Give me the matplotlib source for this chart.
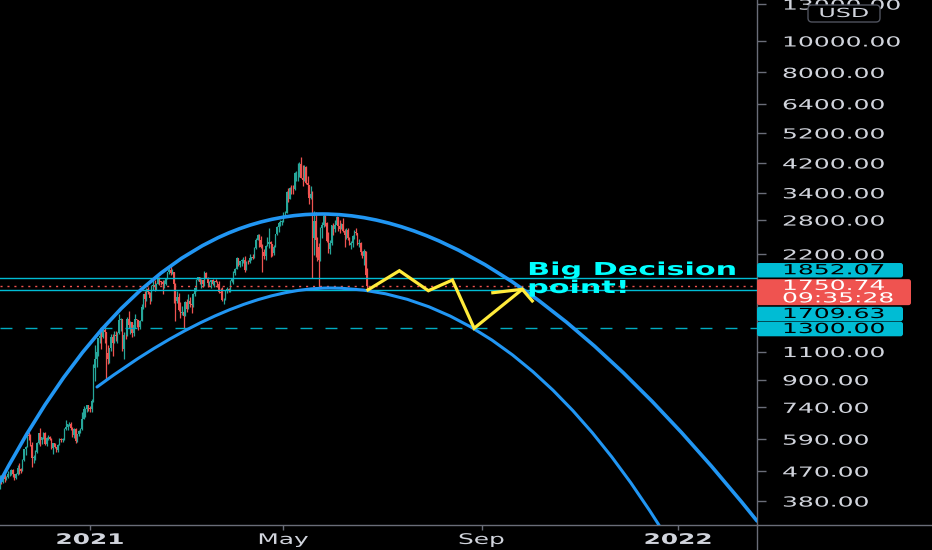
import numpy as np
import pandas as pd
import matplotlib
matplotlib.use("Agg")
import matplotlib.pyplot as plt
import matplotlib.dates as mdates
import matplotlib.patheffects as pe
from matplotlib.path import Path
from matplotlib.patches import PathPatch, FancyBboxPatch
from matplotlib.transforms import Affine2D
from matplotlib.lines import Line2D
from matplotlib.ticker import NullLocator

# daily candles ETH/USD, 2020-11-05 .. 2021-06-22 (open = previous close)
first_open = 401
closes = [
    # nov
    415, 454, 435, 453, 444, 450, 462, 462, 475, 460, 448, 460, 481, 479, 471, 509, 549, 559, 608, 603,
    568, 517, 518, 538, 575, 615,
    # dec
    587, 598, 616, 570, 596, 601, 591, 554, 573, 560, 545, 568, 590, 586, 589, 636, 643, 655, 658, 638,
    609, 635, 583, 611, 625, 635, 683, 730, 731, 751, 737,
    # jan
    730, 775, 978, 1041, 1100, 1208, 1225, 1224, 1281, 1262, 1090, 1044, 1130, 1218, 1171, 1233, 1230,
    1257, 1377, 1382, 1121, 1236, 1233, 1391, 1324, 1357, 1253, 1332, 1382, 1377, 1314,
    # feb
    1369, 1515, 1660, 1594, 1719, 1677, 1614, 1750, 1769, 1743, 1783, 1843, 1814, 1803, 1779, 1781, 1848,
    1938, 1960, 1919, 1935, 1778, 1570, 1626, 1476, 1446, 1459, 1416,
    # mar
    1564, 1492, 1575, 1541, 1533, 1654, 1723, 1834, 1868, 1798, 1826, 1772, 1924, 1855, 1791, 1806, 1823,
    1782, 1810, 1806, 1783, 1681, 1669, 1583, 1588, 1699, 1716, 1691, 1819, 1846, 1919,
    # apr
    1977, 2143, 2028, 2093, 2107, 2115, 1967, 2085, 2076, 2135, 2157, 2139, 2299, 2432, 2515, 2423, 2317,
    2235, 2170, 2330, 2365, 2402, 2363, 2212, 2315, 2534, 2663, 2747, 2758, 2773,
    # may
    2945, 2948, 3431, 3253, 3523, 3491, 3484, 3903, 3928, 3953, 4168, 3785, 3716, 4080, 3639, 3589, 3282,
    3380, 2460, 2773, 2435, 2305, 2109, 2645, 2706, 2890, 2743, 2412, 2277, 2385, 2707,
    # jun
    2634, 2707, 2857, 2689, 2630, 2715, 2591, 2517, 2611, 2472, 2354, 2372, 2508, 2580, 2552, 2366, 2374,
    2225, 2177, 2247, 1889, 1750.74,
]
highs = [
    418, 458, 457, 456, 460, 455, 470, 470, 478, 476, 462, 465, 492, 497, 482, 512, 552, 562, 612, 620,
    611, 580, 528, 546, 577, 617,
    637, 600, 622, 619, 598, 607, 604, 595, 576, 575, 560, 570, 594, 594, 594, 638, 676, 657, 665, 665,
    642, 638, 637, 613, 628, 640, 718, 745, 738, 752, 754,
    749, 787, 1009, 1154, 1132, 1210, 1279, 1269, 1303, 1350, 1263, 1156, 1132, 1245, 1246, 1277, 1271,
    1262, 1441, 1395, 1384, 1265, 1266, 1403, 1470, 1362, 1357, 1346, 1440, 1386, 1378,
    1375, 1540, 1660, 1692, 1734, 1740, 1681, 1760, 1823, 1823, 1790, 1870, 1873, 1820, 1826, 1830, 1850,
    1940, 1985, 2041, 1982, 1940, 1786, 1693, 1670, 1560, 1525, 1473,
    1573, 1601, 1650, 1624, 1550, 1670, 1736, 1841, 1875, 1870, 1840, 1835, 1944, 1932, 1875, 1815, 1832,
    1840, 1820, 1840, 1813, 1812, 1724, 1735, 1604, 1705, 1735, 1726, 1835, 1853, 1944,
    1989, 2150, 2145, 2095, 2127, 2150, 2175, 2098, 2105, 2196, 2160, 2200, 2315, 2470, 2530, 2540, 2497,
    2355, 2280, 2345, 2475, 2645, 2405, 2368, 2345, 2545, 2685, 2760, 2795, 2794,
    2970, 2988, 3450, 3525, 3540, 3600, 3585, 3940, 3980, 4200, 4220, 4380, 4150, 4135, 4100, 3840, 3590,
    3565, 3440, 2980, 2960, 2480, 2380, 2660, 2760, 2915, 2895, 2760, 2580, 2430, 2710,
    2740, 2800, 2890, 2860, 2810, 2750, 2845, 2620, 2640, 2650, 2490, 2410, 2520, 2605, 2640, 2560, 2455,
    2390, 2245, 2280, 2255, 1985,
]
lows = [
    398, 413, 430, 432, 436, 442, 448, 454, 458, 452, 442, 444, 458, 462, 463, 470, 506, 526, 557, 585,
    562, 485, 498, 508, 535, 571,
    562, 571, 591, 566, 563, 588, 586, 550, 530, 554, 537, 540, 566, 580, 580, 585, 628, 630, 648, 630,
    600, 594, 576, 577, 604, 616, 628, 680, 692, 718, 719,
    715, 714, 768, 890, 985, 1066, 1169, 1117, 1209, 1172, 908, 1010, 1016, 1105, 1067, 1171, 1182,
    1168, 1248, 1276, 1104, 1041, 1200, 1232, 1304, 1245, 1224, 1225, 1305, 1312, 1280,
    1290, 1364, 1489, 1510, 1580, 1650, 1540, 1570, 1702, 1692, 1707, 1772, 1770, 1766, 1650, 1729, 1762,
    1843, 1905, 1891, 1910, 1555, 1370, 1550, 1470, 1400, 1426, 1300,
    1412, 1460, 1490, 1505, 1442, 1505, 1630, 1696, 1820, 1775, 1731, 1745, 1755, 1854, 1735, 1750, 1729,
    1765, 1740, 1799, 1740, 1670, 1655, 1578, 1546, 1585, 1672, 1680, 1681, 1804, 1780,
    1901, 1972, 2015, 2005, 2018, 2063, 1935, 1962, 2055, 2065, 2107, 2120, 2136, 2280, 2422, 2320, 2300,
    1940, 2130, 2105, 2330, 2300, 2160, 2170, 2190, 2310, 2525, 2580, 2690, 2705,
    2770, 2855, 2940, 3180, 3250, 3380, 3370, 3480, 3705, 3700, 3810, 3780, 3570, 3705, 3630, 3380, 3140,
    3260, 1852.07, 2180, 2160, 2100, 1730, 2090, 2460, 2660, 2690, 2400, 2220, 2200, 2340,
    2520, 2580, 2700, 2600, 2560, 2620, 2580, 2320, 2440, 2430, 2340, 2280, 2320, 2440, 2525, 2345, 2310,
    2180, 2145, 2040, 1880, 1709.63,
]
start_day = "2020-11-05"

# horizontal levels
level_hi = 1852.07
level_last = 1750.74
level_lo = 1709.63
level_dash = 1300.00
countdown = "09:35:28"

# arcs (start, control, apex, control, end)
outer_dates = ["2020-11-06", "2021-02-01 17:00", "2021-05-25", "2021-09-19 07:00", "2022-02-19"]
outer_prices = [435, 2924, 2924, 2924, 330]
inner_dates = ["2021-01-05 07:00", "2021-03-29 12:00", "2021-05-30", "2021-09-18 17:00", "2021-12-20 05:00"]
inner_prices = [855, 1728, 1728, 1728, 320]

# yellow projection path + arrow head
path_dates = ["2021-06-22 12:00", "2021-07-12", "2021-07-30", "2021-08-13 22:00", "2021-08-27 10:00", "2021-09-26 07:00"]
path_prices = [1705, 1954, 1695, 1829, 1298, 1712]
head_dates = ["2021-09-08", "2021-09-26 07:00", "2021-10-02 12:00"]
head_prices = [1671, 1712, 1576]

note_date = "2021-09-29 07:00"
note_price = 2094
note_text = "Big Decision\npoint!"

yticks = [380, 470, 590, 740, 900, 1100, 2200, 2800, 3400, 4200, 5200, 6400, 8000, 10000, 13000]
xtick_dates = ["2021-01-01", "2021-05-01", "2021-09-01", "2022-01-01"]
xtick_labels = ["2021", "May", "Sep", "2022"]
xtick_bold = [True, False, False, True]
xmin_date = "2020-11-06 02:00"
xmax_date = "2022-02-19"

UP = '#26a69a'
DOWN = '#ef5350'
BLUE = '#2196f3'
CYAN = '#00bcd4'
GRID = '#6a6d78'
TXT = '#d1d4dc'


def dnum(ds):
    return mdates.date2num([pd.Timestamp(s) for s in ds])


class StretchX(pe.AbstractPathEffect):
    """widen glyphs horizontally (the screenshot is stretched)"""
    def __init__(self, sx, anchor='left'):
        super().__init__()
        self.sx = sx
        self.anchor = anchor

    def draw_path(self, renderer, gc, tpath, affine, rgbFace=None):
        if self.anchor == 'center':
            ext = tpath.get_extents()
            cx = (ext.x0 + ext.x1) / 2
        else:
            cx = 0
        t = Affine2D().translate(-cx, 0).scale(self.sx, 1).translate(cx, 0) + affine
        renderer.draw_path(gc, tpath, t, rgbFace)


W, H = 932, 550
fig = plt.figure(figsize=(W / 100, H / 100), dpi=100, facecolor='black')
ax = fig.add_axes([0, 25 / H, 757 / W, 525 / H], facecolor='black')

# candles
dates = pd.date_range(start_day, periods=len(closes), freq="D")
x = mdates.date2num(dates)
c = np.array(closes, dtype=float)
o = np.concatenate([[first_open], c[:-1]])
hi = np.array(highs, dtype=float)
lo = np.array(lows, dtype=float)
cols = np.where(c >= o, UP, DOWN)
ax.vlines(x, lo, hi, colors=cols, lw=0.9, zorder=2)
ax.bar(x, np.abs(c - o), bottom=np.minimum(o, c), width=0.85, color=cols, linewidth=0, zorder=2)

# levels
ax.axhline(level_hi, color=CYAN, lw=1.0, zorder=3)
ax.axhline(level_lo, color=CYAN, lw=1.0, zorder=3)
ax.axhline(level_last, color=DOWN, lw=1.0, ls=(0, (1.5, 3.5)), zorder=3)
ax.axhline(level_dash, color='#00acc1', lw=1.0, ls=(0, (8.6, 9.4)), zorder=3)

# arcs
codes = [Path.MOVETO, Path.CURVE3, Path.CURVE3, Path.CURVE3, Path.CURVE3]
for ds, ps, lw in [(outer_dates, outer_prices, 2.6), (inner_dates, inner_prices, 2.2)]:
    verts = list(zip(dnum(ds), ps))
    ax.add_patch(PathPatch(Path(verts, codes), fill=False, edgecolor=BLUE, lw=lw,
                           capstyle='round', zorder=4))

# yellow projection
ax.plot(dnum(path_dates), path_prices, color='#ffeb3b', lw=2.3, solid_joinstyle='miter', zorder=5)
ax.plot(dnum(head_dates), head_prices, color='#ffeb3b', lw=2.3, solid_joinstyle='miter', zorder=5)

note = ax.text(dnum([note_date])[0], note_price, note_text, color='#00ffff',
               fontsize=12.8, fontweight='bold', ha='left', va='top', linespacing=1.0, zorder=6)
note.set_path_effects([StretchX(1.7, 'left')])

# axes
ax.set_yscale('log')
ax.set_ylim(320.6, 13383)
ax.set_xlim(*dnum([xmin_date, xmax_date]))
ax.yaxis.set_minor_locator(NullLocator())
ax.xaxis.set_minor_locator(NullLocator())
ax.yaxis.tick_right()
ax.set_yticks(yticks)
ax.set_yticklabels([f"{v:.2f}" for v in yticks])
ax.tick_params(axis='y', length=6.5, width=1, color=GRID, pad=11.5, labelsize=10, labelcolor=TXT)
ax.set_xticks(dnum(xtick_dates))
ax.set_xticklabels(xtick_labels)
ax.tick_params(axis='x', length=3.5, width=1, color=GRID, pad=1.5, labelsize=10.5, labelcolor=TXT)
for sp in ['left', 'top']:
    ax.spines[sp].set_visible(False)
for sp in ['right', 'bottom']:
    ax.spines[sp].set_color(GRID)
    ax.spines[sp].set_linewidth(1)

for t in ax.yaxis.get_major_ticks():
    t.label2.set_path_effects([StretchX(1.8, 'left')])
for t, b in zip(ax.xaxis.get_major_ticks(), xtick_bold):
    t.label1.set_path_effects([StretchX(1.7, 'center')])
    if b:
        t.label1.set_fontweight('bold')

# axis lines running into the price / time scale area
fig.add_artist(Line2D([757 / W, 757 / W], [0, 25 / H], color=GRID, lw=1))
fig.add_artist(Line2D([757 / W, 1], [25 / H, 25 / H], color=GRID, lw=1))

# price tags on the scale (positions from the data transform)
inch = fig.dpi_scale_trans


def tag(price, dy, h, w, face, lines, txtcol, line_dy=0):
    yc = ax.transData.transform((x[0], price))[1] / 100 - dy / 100
    fig.add_artist(FancyBboxPatch((757 / 100, yc - h / 200), w / 100, h / 100,
                                  boxstyle="round,pad=0,rounding_size=0.025",
                                  transform=inch, facecolor=face, edgecolor='none', zorder=5))
    for i, s in enumerate(lines):
        ty = yc + (len(lines) - 1) * line_dy / 200 - i * line_dy / 100
        tt = fig.text(782 / 100, ty, s, transform=inch, ha='left', va='center',
                      fontsize=10, color=txtcol, zorder=6)
        tt.set_path_effects([StretchX(1.8, 'left')])


tag(level_hi, -8, 14.5, 146, CYAN, [f"{level_hi:.2f}"], 'black')
tag(level_last, 6, 26, 154, DOWN, [f"{level_last:.2f}", countdown], 'white', line_dy=12.5)
tag(level_lo, 24.5, 14.5, 146, CYAN, [f"{level_lo:.2f}"], 'black')
tag(level_dash, 1, 14.5, 146, CYAN, [f"{level_dash:.2f}"], 'black')

# currency box (sits over the top price label, as in the original)
fig.add_artist(FancyBboxPatch((808 / 100, (H - 22) / 100), 72 / 100, 17 / 100,
                              boxstyle="round,pad=0,rounding_size=0.04", transform=inch,
                              facecolor='black', edgecolor='#50535e', lw=1, zorder=5))
usd = fig.text(844 / 100, (H - 13.5) / 100, "USD", transform=inch, ha='center', va='center',
               fontsize=9, color=TXT, zorder=6)
usd.set_path_effects([StretchX(1.9, 'center')])

fig.savefig("out.png", dpi=100, facecolor='black')
